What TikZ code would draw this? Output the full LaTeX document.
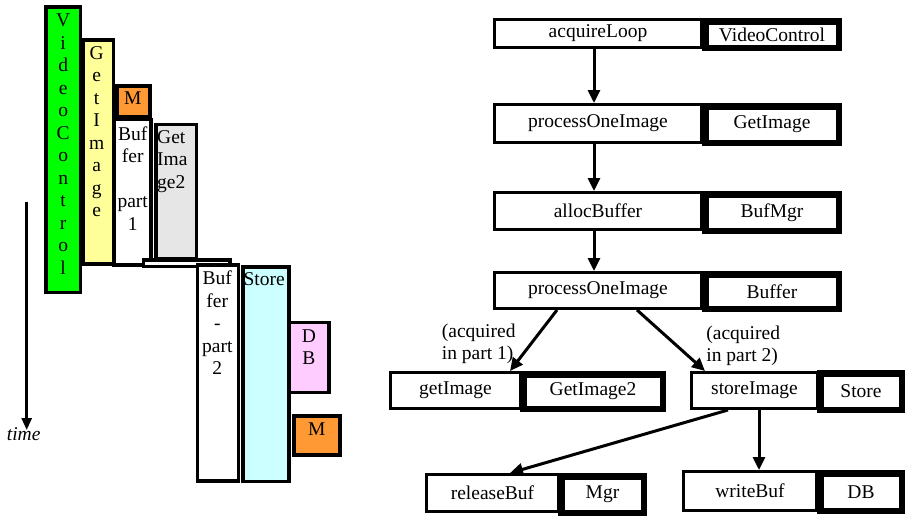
\documentclass[tikz,border=0pt]{standalone}
\usepackage{fontspec}
\setmainfont{Liberation Serif}
\usetikzlibrary{fit,arrows.meta}

\definecolor{vcgreen}{RGB}{0,255,0}
\definecolor{giyellow}{RGB}{255,255,153}
\definecolor{mgrorange}{RGB}{255,153,51}
\definecolor{gigray}{RGB}{230,230,230}
\definecolor{stcyan}{RGB}{204,255,255}
\definecolor{dbpink}{RGB}{255,204,255}

\tikzset{
  every node/.style={font=\fontsize{19.5}{22.5}\selectfont},
  bar/.style={draw=black, line width=3.5pt, inner sep=0pt},
  fnbox/.style={draw=black, fill=white, line width=3.3pt, inner sep=0pt},
  objbox/.style={draw=black, fill=white, line width=6.5pt, inner sep=0pt},
  lbl/.style={inner sep=0pt},
  stack/.style={inner sep=0pt, align=center, anchor=north},
  call/.style={line width=3pt, -{Triangle[length=13pt,width=12pt]}},
  timeline/.style={line width=2.7pt, -{Triangle[length=12pt,width=10pt]}}
}

\begin{document}
\begin{tikzpicture}[x=1pt,y=-1pt]
\useasboundingbox (0,0) rectangle (906,517);

% ---------- activation bars along the time axis ----------
\node[bar, fill=vcgreen,   fit={(45.75,6.75) (80.25,292.25)}]   (vc)  {};
\node[bar, fill=giyellow,  fit={(83.45,40.05) (113.25,263.95)}] (gi)  {};
\node[bar, fill=white,     fit={(114.05,119.45) (150.95,264.95)}] (bp1) {};
\node[bar, fill=mgrorange, fit={(116.75,86.05) (149.95,116.25)}] (m1)  {};
\node[bar, fill=gigray,    fit={(155.75,124.45) (196.55,258.95)}] (gi2) {};
\node[bar, fill=white,     fit={(143.45,260.05) (229.95,266.55)}] (bsw) {};
\node[bar, fill=white,     fit={(197.45,265.05) (238.25,480.95)}] (bp2) {};
\node[bar, fill=stcyan,    fit={(242.75,266.75) (288.95,481.55)}] (st)  {};
\node[bar, fill=dbpink,    fit={(289.05,322.45) (328.95,392.25)}] (db)  {};
\node[bar, fill=mgrorange, fit={(294.05,416.05) (339.95,454.95)}] (m2)  {};

% bar captions
\node[stack] (vct) at (63.2,13.7) {V\\i\\d\\e\\o\\C\\o\\n\\t\\r\\o\\l};
\node[stack] (git) at (96.7,46.3) {G\\e\\t\\I\\m\\a\\g\\e};
\node[lbl, anchor=base] (m1t) at (132.7,104.3) {M};
\node[stack] (bp1t) at (132.7,126.3) {Buf\\fer\\ {}\\part\\1};
\node[lbl, align=left, anchor=north west] (gi2t) at (157,130.3) {Get\\Ima\\ge2};
\node[stack] (bp2t) at (217.3,271) {Buf\\fer\\-\\part\\2};
\node[lbl, anchor=base west] (stt) at (243.3,285.7) {Store};
\node[stack] (dbt) at (309,329.3) {D\\B};
\node[lbl, anchor=base] (m2t) at (316.7,435) {M};

% time axis
\node[lbl, anchor=base west] (time) at (6.7,440) {\itshape time};
\coordinate (t0) at (26.7,201.7);
\coordinate (t1) at (26.7,430);
\draw[timeline] (t0) -- (t1);

% ---------- call tree ----------
\node[fnbox,  fit={(494.65,19.65) (701.35,47.35)},   label=center:acquireLoop]     (acq)  {};
\node[objbox, fit={(705.25,21.25) (838.75,47.75)},   label=center:VideoControl]    (acqo) {};

\node[fnbox,  fit={(494.65,104.65) (701.35,142.35)}, label=center:processOneImage] (poi1)  {};
\node[objbox, fit={(705.25,106.25) (838.75,142.75)}, label=center:GetImage]        (poi1o) {};

\node[fnbox,  fit={(494.65,192.65) (701.35,229.35)}, label=center:allocBuffer]     (alloc)  {};
\node[objbox, fit={(705.25,194.25) (838.75,230.75)}, label=center:BufMgr]          (alloco) {};

\node[fnbox,  fit={(494.65,272.65) (701.35,308.35)}, label=center:processOneImage] (poi2)  {};
\node[objbox, fit={(705.25,274.25) (838.75,308.75)}, label=center:Buffer]          (poi2o) {};

\node[fnbox,  fit={(390.65,372.65) (520.35,408.35)}, label=center:getImage]        (get)  {};
\node[objbox, fit={(523.25,374.25) (662.75,408.75)}, label=center:GetImage2]       (geto) {};

\node[fnbox,  fit={(691.65,372.65) (817.35,408.35)}, label=center:storeImage]      (store)  {};
\node[objbox, fit={(820.25,373.25) (901.75,409.75)}, label=center:Store]           (storeo) {};

\node[fnbox,  fit={(426.65,474.65) (558.35,511.35)}, label=center:releaseBuf]      (rel)  {};
\node[objbox, fit={(561.25,476.25) (643.75,512.75)}, label=center:Mgr]             (relo) {};

\node[fnbox,  fit={(683.65,471.65) (816.35,510.35)}, label=center:writeBuf]        (wr)  {};
\node[objbox, fit={(820.25,473.25) (901.75,510.75)}, label=center:DB]              (wro) {};

% notes on the two branches
\node[lbl, align=left, anchor=north west,
      font=\fontsize{19.5}{21.5}\selectfont] (n1) at (441.7,323.8) {(acquired\\in part 1)};
\node[lbl, align=left, anchor=north west,
      font=\fontsize{19.5}{21.5}\selectfont] (n2) at (706.2,326) {(acquired\\in part 2)};

% calls
\draw[call] ([xshift=-4pt]acq.south)   -- ([xshift=-4pt]poi1.north);
\draw[call] ([xshift=-4pt]poi1.south)  -- ([xshift=-4pt]alloc.north);
\draw[call] ([xshift=-4pt]alloc.south) -- ([xshift=-4pt]poi2.north);
\draw[call] ([xshift=-41pt]poi2.south) -- ([xshift=54.5pt]get.north);
\draw[call] ([xshift=39pt]poi2.south)  -- ([xshift=-49.5pt]store.north);
\draw[call] ([xshift=-26.5pt]store.south) -- ([xshift=17.5pt]rel.north);
\draw[call] ([xshift=4.5pt]store.south) -- ([xshift=4.5pt]store.south |- wr.north);
\end{tikzpicture}
\end{document}
